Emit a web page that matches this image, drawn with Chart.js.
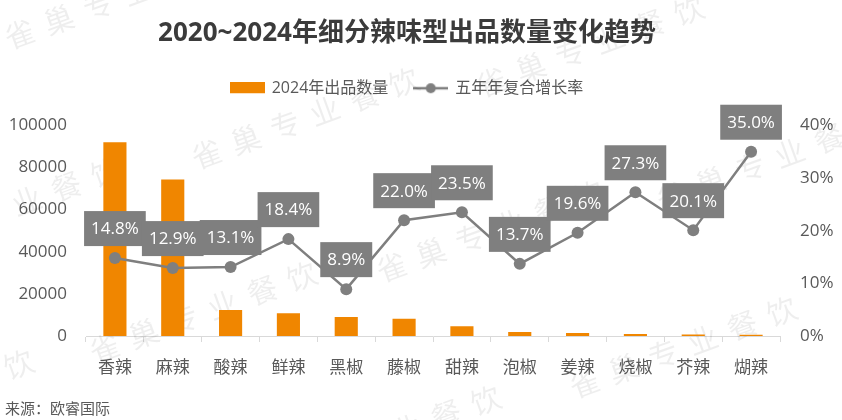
<!DOCTYPE html>
<html>
<head>
<meta charset="utf-8">
<script src="https://cdn.jsdelivr.net/npm/chart.js@4.4.1/dist/chart.umd.min.js"></script>
<style>
  html, body { margin: 0; padding: 0; background: #fff; }
  canvas { display: block; }
</style>
</head>
<body>
<canvas id="myChart" width="842" height="420"></canvas>
<script>
// data
const categories = ["香辣", "麻辣", "酸辣", "鲜辣", "黑椒", "藤椒", "甜辣", "泡椒", "姜辣", "烧椒", "芥辣", "煳辣"];
const output2024 = [92000, 74300, 12300, 10800, 9000, 8200, 4600, 1900, 1400, 900, 700, 600];
const cagr = [14.8, 12.9, 13.1, 18.4, 8.9, 22.0, 23.5, 13.7, 19.6, 27.3, 20.1, 35.0];
const leftTicks = [0, 20000, 40000, 60000, 80000, 100000];
const rightTicks = [0, 10, 20, 30, 40];

const barColor = "#F08600";
const lineColor = "#7F7F7F";
const textColor = "#595959";

Chart.defaults.font.family = "'Open Sans', 'Noto Sans CJK SC', sans-serif";
Chart.defaults.color = textColor;

// little pictures for the legend
function legendIcon(kind) {
  const c = document.createElement("canvas");
  c.width = 35;
  c.height = 12;
  const g = c.getContext("2d");
  if (kind === "bar") {
    g.fillStyle = barColor;
    g.fillRect(0, 0, 35, 11);
  } else {
    g.strokeStyle = lineColor;
    g.lineWidth = 2.5;
    g.beginPath();
    g.moveTo(0, 6);
    g.lineTo(35, 6);
    g.stroke();
    g.fillStyle = lineColor;
    g.beginPath();
    g.arc(17.5, 6, 5, 0, Math.PI * 2);
    g.fill();
  }
  return c;
}
const icons = [legendIcon("bar"), legendIcon("line")];

// faint "雀巢专业餐饮" marks behind the data
const watermarkCenters = [
  [118, -2], [590, 46], [305, 118], [7, 208], [490, 231],
  [770, 160], [203, 312], [683, 347], [387, 436], [-80, 400],
];
const watermark = {
  id: "watermark",
  beforeDatasetsDraw(chart) {
    const ctx = chart.ctx;
    const chars = "雀巢专业餐饮".split("");
    ctx.save();
    ctx.font = "30px 'Noto Sans CJK SC'";
    ctx.fillStyle = "rgba(0,0,0,0.065)";
    ctx.textAlign = "center";
    ctx.textBaseline = "middle";
    watermarkCenters.forEach(([cx, cy]) => {
      ctx.save();
      ctx.translate(cx, cy);
      ctx.rotate(-20 * Math.PI / 180);
      chars.forEach((ch, i) => {
        ctx.fillText(ch, (i - 2.5) * 42, 0);
      });
      ctx.restore();
    });
    ctx.restore();
  },
};

// grey boxes with the growth rate above each point
const rateLabels = {
  id: "rateLabels",
  afterDatasetsDraw(chart) {
    const ctx = chart.ctx;
    const meta = chart.getDatasetMeta(1);
    ctx.save();
    ctx.font = "17px 'Open Sans'";
    ctx.textAlign = "center";
    ctx.textBaseline = "middle";
    meta.data.forEach((pt, i) => {
      const text = cagr[i].toFixed(1) + "%";
      const w = ctx.measureText(text).width + 14;
      const h = 35;
      const bottom = pt.y - 12;
      ctx.fillStyle = lineColor;
      ctx.fillRect(pt.x - w / 2, bottom - h, w, h);
      ctx.fillStyle = "#fff";
      ctx.fillText(text, pt.x, bottom - h / 2 + 1);
    });
    ctx.restore();
  },
};

const source = {
  id: "source",
  afterDraw(chart) {
    const ctx = chart.ctx;
    ctx.save();
    ctx.font = "15px 'Noto Sans CJK SC'";
    ctx.fillStyle = textColor;
    ctx.textBaseline = "middle";
    ctx.fillText("来源：欧睿国际", 5, 408);
    ctx.restore();
  },
};

new Chart(document.querySelector("#myChart").getContext("2d"), {
  data: {
    labels: categories,
    datasets: [
      {
        type: "bar",
        label: "2024年出品数量",
        data: output2024,
        backgroundColor: barColor,
        barPercentage: 0.4,
        categoryPercentage: 1,
        yAxisID: "y",
        order: 2,
      },
      {
        type: "line",
        label: "五年年复合增长率",
        data: cagr,
        borderColor: lineColor,
        backgroundColor: lineColor,
        borderWidth: 2.5,
        pointRadius: 6,
        pointBackgroundColor: lineColor,
        pointBorderWidth: 0,
        tension: 0,
        yAxisID: "y1",
        order: 1,
      },
    ],
  },
  options: {
    responsive: false,
    animation: false,
    layout: { padding: { top: 0, right: 28, bottom: 0, left: 0 } },
    plugins: {
      title: {
        display: true,
        text: "2020~2024年细分辣味型出品数量变化趋势",
        font: { size: 26, weight: "bold" },
        color: "#3b3b3b",
        padding: { top: 18, bottom: 5 },
      },
      // empty subtitle only keeps a gap between legend and plot
      subtitle: {
        display: true,
        text: " ",
        font: { size: 1 },
        padding: { top: 0, bottom: 18 },
      },
      legend: {
        position: "top",
        weight: 1800,
        labels: {
          usePointStyle: true,
          pointStyleWidth: 33,
          boxHeight: 11,
          padding: 26,
          font: { size: 16 },
          color: textColor,
          sort: (a, b) => a.datasetIndex - b.datasetIndex,
          generateLabels(chart) {
            const items = Chart.defaults.plugins.legend.labels.generateLabels(chart);
            items.forEach(it => { it.pointStyle = icons[it.datasetIndex]; });
            return items;
          },
        },
      },
      tooltip: { enabled: false },
    },
    scales: {
      x: {
        offset: true,
        grid: { display: true, drawOnChartArea: false, tickLength: 6, color: "#d9d9d9", offset: true },
        border: { color: "#d9d9d9" },
        ticks: { font: { size: 17 }, color: textColor, padding: 16, maxRotation: 0, autoSkip: false },
        afterFit(s) { s.height = 84; },
      },
      y: {
        position: "left",
        min: leftTicks[0],
        max: leftTicks[leftTicks.length - 1],
        afterBuildTicks(s) { s.ticks = leftTicks.map(v => ({ value: v })); },
        ticks: { font: { size: 17 }, color: textColor, padding: 19, callback: v => String(v) },
        grid: { display: false, drawTicks: false },
        border: { display: false },
        afterFit(s) { s.width = 86; },
      },
      y1: {
        position: "right",
        min: rightTicks[0],
        max: rightTicks[rightTicks.length - 1],
        afterBuildTicks(s) { s.ticks = rightTicks.map(v => ({ value: v })); },
        ticks: { font: { size: 17 }, color: textColor, padding: 20, callback: v => v + "%" },
        grid: { display: false, drawTicks: false },
        border: { display: false },
        afterFit(s) {
          s.width = 34;
          // labels run into the right padding, so don't clip them to the axis box
          s._computeLabelArea = () => undefined;
        },
      },
    },
  },
  plugins: [watermark, rateLabels, source],
});
</script>
</body>
</html>
